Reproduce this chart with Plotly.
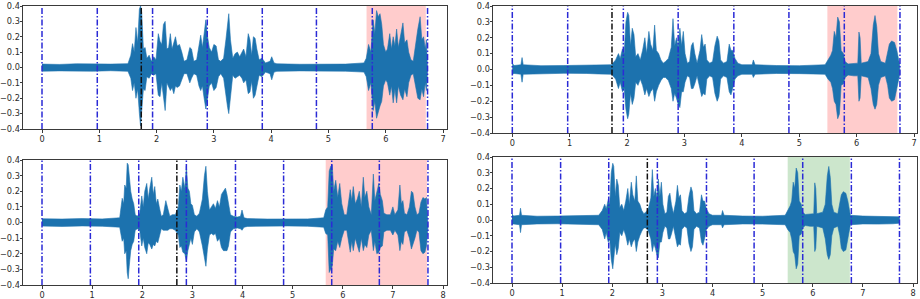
import plotly.graph_objects as go

W, H = 920, 299

# ---------------- data ----------------
# Top-left waveform envelope: time (s), upper, lower amplitude
TL_T = [0.00, 0.30, 0.60, 0.90, 1.20, 1.50, 1.55, 1.58, 1.61, 1.64, 1.67, 1.70, 1.72, 1.74, 1.77, 1.80,
        1.83, 1.87, 1.91, 1.95, 1.99, 2.03, 2.06, 2.09, 2.12, 2.15, 2.18, 2.21, 2.24, 2.27, 2.30, 2.33,
        2.36, 2.40, 2.44, 2.48, 2.53, 2.58, 2.61, 2.65, 2.70, 2.74, 2.77, 2.80, 2.83, 2.86, 2.89, 2.92,
        2.96, 3.00, 3.04, 3.08, 3.12, 3.17, 3.21, 3.24, 3.26, 3.29, 3.33, 3.37, 3.41, 3.45, 3.49, 3.52,
        3.56, 3.60, 3.63, 3.66, 3.69, 3.72, 3.75, 3.79, 3.84, 3.90, 3.98, 4.01, 4.05, 4.10, 4.50, 4.90,
        5.30, 5.62, 5.66, 5.70, 5.74, 5.78, 5.81, 5.84, 5.87, 5.90, 5.93, 5.96, 6.00, 6.03, 6.07, 6.10,
        6.13, 6.16, 6.19, 6.22, 6.26, 6.30, 6.33, 6.37, 6.40, 6.44, 6.48, 6.52, 6.56, 6.60, 6.63, 6.66,
        6.69, 6.71, 6.73]
TL_UP = [0.022, 0.020, 0.024, 0.021, 0.022, 0.025, 0.08, 0.155, 0.10, 0.26, 0.16, 0.38, 0.40, 0.36, 0.12, 0.13,
         0.06, 0.08, 0.04, 0.07, 0.05, 0.22, 0.17, 0.15, 0.28, 0.30, 0.12, 0.13, 0.22, 0.12, 0.16, 0.20,
         0.14, 0.15, 0.10, 0.04, 0.05, 0.13, 0.12, 0.04, 0.05, 0.16, 0.21, 0.13, 0.22, 0.31, 0.20, 0.13,
         0.10, 0.15, 0.14, 0.05, 0.04, 0.06, 0.18, 0.30, 0.35, 0.18, 0.06, 0.09, 0.10, 0.07, 0.10, 0.12,
         0.07, 0.22, 0.18, 0.08, 0.20, 0.19, 0.12, 0.05, 0.06, 0.03, 0.04, 0.07, 0.03, 0.024, 0.021, 0.023,
         0.022, 0.03, 0.06, 0.15, 0.10, 0.31, 0.22, 0.37, 0.33, 0.35, 0.28, 0.15, 0.10, 0.12, 0.22, 0.12,
         0.20, 0.14, 0.25, 0.13, 0.20, 0.29, 0.16, 0.18, 0.10, 0.05, 0.04, 0.15, 0.25, 0.33, 0.18, 0.20,
         0.12, 0.18, 0.02]
TL_LO = [-0.024, -0.022, -0.022, -0.024, -0.021, -0.025, -0.07, -0.15, -0.10, -0.20, -0.14, -0.30, -0.38, -0.33, -0.14, -0.15,
         -0.06, -0.07, -0.04, -0.05, -0.04, -0.18, -0.19, -0.10, -0.20, -0.28, -0.10, -0.12, -0.15, -0.13, -0.17, -0.12,
         -0.13, -0.12, -0.08, -0.04, -0.04, -0.10, -0.07, -0.04, -0.05, -0.12, -0.15, -0.12, -0.20, -0.27, -0.20, -0.12,
         -0.10, -0.15, -0.13, -0.06, -0.04, -0.07, -0.16, -0.26, -0.30, -0.20, -0.05, -0.07, -0.06, -0.05, -0.07, -0.10,
         -0.08, -0.17, -0.16, -0.09, -0.20, -0.18, -0.12, -0.05, -0.06, -0.03, -0.04, -0.08, -0.03, -0.025, -0.022, -0.022,
         -0.024, -0.03, -0.06, -0.15, -0.10, -0.28, -0.22, -0.33, -0.30, -0.25, -0.22, -0.12, -0.08, -0.10, -0.18, -0.12,
         -0.23, -0.14, -0.23, -0.12, -0.18, -0.21, -0.14, -0.19, -0.10, -0.05, -0.04, -0.12, -0.20, -0.21, -0.14, -0.19,
         -0.10, -0.15, -0.02]
TL_SEG = [0, 0.965, 1.93, 2.885, 3.845, 4.79, 5.765, 6.73]
TL_MARK = [1.733]
TL_SPAN = [5.665, 6.70]

# Top-right waveform envelope
TR_T = [0.00, 0.03, 0.15, 0.17, 0.19, 0.50, 0.90, 1.30, 1.50, 1.73, 1.80, 1.85, 1.88, 1.92, 1.95, 1.98,
        2.01, 2.03, 2.06, 2.09, 2.12, 2.15, 2.19, 2.23, 2.27, 2.31, 2.34, 2.38, 2.41, 2.45, 2.48, 2.51,
        2.55, 2.59, 2.63, 2.67, 2.72, 2.77, 2.80, 2.83, 2.86, 2.89, 2.92, 2.95, 2.98, 3.01, 3.05, 3.09,
        3.12, 3.15, 3.18, 3.22, 3.27, 3.30, 3.33, 3.36, 3.39, 3.44, 3.49, 3.53, 3.57, 3.60, 3.63, 3.68,
        3.74, 3.78, 3.81, 3.84, 3.88, 3.93, 4.00, 4.18, 4.20, 4.23, 4.60, 5.00, 5.45, 5.50, 5.55, 5.58,
        5.61, 5.64, 5.67, 5.70, 5.73, 5.77, 5.80, 5.85, 5.95, 6.02, 6.04, 6.06, 6.08, 6.20, 6.25, 6.29,
        6.32, 6.35, 6.38, 6.42, 6.50, 6.54, 6.57, 6.61, 6.66, 6.70, 6.75]
TR_UP = [0.04, 0.025, 0.03, 0.075, 0.03, 0.024, 0.025, 0.026, 0.03, 0.03, 0.06, 0.10, 0.07, 0.13, 0.10, 0.30,
         0.36, 0.34, 0.15, 0.26, 0.22, 0.08, 0.10, 0.06, 0.12, 0.20, 0.10, 0.24, 0.16, 0.12, 0.28, 0.12,
         0.10, 0.06, 0.04, 0.05, 0.07, 0.14, 0.32, 0.15, 0.20, 0.14, 0.26, 0.15, 0.24, 0.10, 0.04, 0.05,
         0.15, 0.17, 0.10, 0.04, 0.12, 0.22, 0.14, 0.16, 0.06, 0.04, 0.05, 0.15, 0.21, 0.18, 0.06, 0.04,
         0.05, 0.16, 0.12, 0.12, 0.07, 0.04, 0.03, 0.03, 0.06, 0.03, 0.025, 0.024, 0.03, 0.06, 0.09, 0.12,
         0.24, 0.20, 0.33, 0.30, 0.12, 0.10, 0.05, 0.035, 0.04, 0.04, 0.236, 0.20, 0.04, 0.05, 0.10, 0.28,
         0.34, 0.27, 0.10, 0.05, 0.04, 0.10, 0.16, 0.18, 0.17, 0.12, 0.03]
TR_LO = [-0.03, -0.025, -0.03, -0.08, -0.03, -0.025, -0.024, -0.025, -0.028, -0.03, -0.06, -0.12, -0.08, -0.14, -0.12, -0.25,
         -0.31, -0.28, -0.15, -0.22, -0.18, -0.08, -0.10, -0.06, -0.10, -0.16, -0.12, -0.17, -0.14, -0.12, -0.20, -0.14,
         -0.10, -0.07, -0.05, -0.05, -0.07, -0.12, -0.20, -0.15, -0.18, -0.22, -0.24, -0.14, -0.14, -0.08, -0.04, -0.05,
         -0.12, -0.12, -0.09, -0.04, -0.12, -0.17, -0.15, -0.16, -0.06, -0.04, -0.05, -0.15, -0.20, -0.17, -0.06, -0.04,
         -0.05, -0.14, -0.16, -0.12, -0.06, -0.04, -0.03, -0.03, -0.05, -0.03, -0.025, -0.026, -0.03, -0.06, -0.08, -0.12,
         -0.20, -0.22, -0.31, -0.28, -0.10, -0.09, -0.05, -0.035, -0.04, -0.04, -0.20, -0.18, -0.04, -0.05, -0.12, -0.22,
         -0.25, -0.22, -0.10, -0.05, -0.04, -0.10, -0.18, -0.20, -0.19, -0.12, -0.03]
TR_SEG = [0, 0.965, 1.935, 2.89, 3.86, 4.82, 5.785, 6.755]
TR_MARK = [1.737]
TR_SPAN = [5.49, 6.71]

# Bottom-left waveform envelope
BL_T = [0.00, 0.40, 0.80, 1.20, 1.55, 1.58, 1.60, 1.63, 1.65, 1.68, 1.70, 1.72, 1.74, 1.77, 1.80, 1.83,
        1.86, 1.90, 1.95, 1.99, 2.02, 2.05, 2.09, 2.12, 2.15, 2.19, 2.22, 2.25, 2.28, 2.31, 2.34, 2.38,
        2.42, 2.47, 2.51, 2.55, 2.60, 2.66, 2.72, 2.75, 2.78, 2.81, 2.85, 2.88, 2.91, 2.94, 2.97, 3.00,
        3.04, 3.09, 3.14, 3.20, 3.24, 3.27, 3.30, 3.34, 3.38, 3.42, 3.46, 3.50, 3.54, 3.58, 3.62, 3.66,
        3.69, 3.72, 3.76, 3.82, 3.90, 3.96, 3.99, 4.03, 4.10, 4.50, 4.90, 5.30, 5.62, 5.66, 5.70, 5.73,
        5.76, 5.79, 5.82, 5.86, 5.90, 5.94, 5.98, 6.03, 6.08, 6.12, 6.15, 6.18, 6.21, 6.25, 6.29, 6.33,
        6.37, 6.41, 6.44, 6.48, 6.52, 6.57, 6.61, 6.64, 6.68, 6.72, 6.75, 6.79, 6.82, 6.88, 6.95, 7.00,
        7.04, 7.10, 7.14, 7.17, 7.20, 7.23, 7.28, 7.33, 7.37, 7.40, 7.44, 7.48, 7.52, 7.56, 7.60, 7.64,
        7.67, 7.70]
BL_UP = [0.024, 0.022, 0.025, 0.023, 0.03, 0.10, 0.155, 0.12, 0.24, 0.22, 0.38, 0.37, 0.30, 0.20, 0.15, 0.12,
         0.05, 0.04, 0.06, 0.17, 0.10, 0.20, 0.25, 0.15, 0.22, 0.29, 0.18, 0.23, 0.12, 0.15, 0.10, 0.04,
         0.05, 0.14, 0.09, 0.04, 0.05, 0.05, 0.10, 0.24, 0.20, 0.29, 0.22, 0.36, 0.22, 0.20, 0.12, 0.11,
         0.05, 0.04, 0.06, 0.15, 0.30, 0.36, 0.20, 0.08, 0.10, 0.12, 0.09, 0.14, 0.10, 0.18, 0.20, 0.22,
         0.18, 0.12, 0.05, 0.04, 0.035, 0.04, 0.08, 0.03, 0.025, 0.022, 0.024, 0.023, 0.03, 0.08, 0.10, 0.33,
         0.36, 0.37, 0.20, 0.27, 0.16, 0.25, 0.12, 0.05, 0.05, 0.16, 0.21, 0.14, 0.23, 0.12, 0.15, 0.20,
         0.10, 0.29, 0.16, 0.20, 0.10, 0.05, 0.31, 0.14, 0.20, 0.25, 0.18, 0.14, 0.06, 0.05, 0.05, 0.10,
         0.05, 0.08, 0.24, 0.12, 0.14, 0.06, 0.05, 0.10, 0.20, 0.19, 0.10, 0.05, 0.06, 0.13, 0.16, 0.15,
         0.16, 0.03]
BL_LO = [-0.023, -0.025, -0.022, -0.024, -0.03, -0.08, -0.12, -0.10, -0.20, -0.18, -0.32, -0.36, -0.28, -0.18, -0.14, -0.12,
         -0.05, -0.04, -0.05, -0.15, -0.10, -0.16, -0.20, -0.13, -0.14, -0.17, -0.14, -0.15, -0.12, -0.13, -0.10, -0.04,
         -0.05, -0.05, -0.05, -0.04, -0.04, -0.05, -0.08, -0.16, -0.15, -0.19, -0.20, -0.25, -0.18, -0.14, -0.10, -0.14,
         -0.06, -0.04, -0.06, -0.15, -0.22, -0.28, -0.17, -0.08, -0.07, -0.08, -0.07, -0.12, -0.10, -0.16, -0.18, -0.18,
         -0.18, -0.15, -0.06, -0.04, -0.035, -0.04, -0.05, -0.03, -0.025, -0.023, -0.022, -0.024, -0.03, -0.07, -0.08, -0.32,
         -0.30, -0.28, -0.17, -0.18, -0.12, -0.16, -0.10, -0.05, -0.05, -0.12, -0.19, -0.12, -0.18, -0.10, -0.14, -0.19,
         -0.10, -0.18, -0.14, -0.16, -0.08, -0.05, -0.18, -0.12, -0.20, -0.19, -0.16, -0.15, -0.06, -0.05, -0.05, -0.08,
         -0.05, -0.08, -0.18, -0.12, -0.14, -0.06, -0.05, -0.10, -0.17, -0.15, -0.10, -0.05, -0.06, -0.18, -0.20, -0.19,
         -0.15, -0.03]
BL_SEG = [0, 0.965, 1.93, 2.88, 3.86, 4.82, 5.78, 6.73, 7.70]
BL_MARK = [2.69]
BL_SPAN = [5.66, 7.68]

# Bottom-right: same recording as top-right followed by about one second of background noise
BR_TAIL_T = [7.00, 7.30, 7.60, 7.73]
BR_TAIL_UP = [0.025, 0.024, 0.025, 0.02]
BR_TAIL_LO = [-0.025, -0.026, -0.024, -0.02]
BR_T = TR_T + BR_TAIL_T
BR_UP = TR_UP + BR_TAIL_UP
BR_LO = TR_LO + BR_TAIL_LO
BR_SEG = [0, 0.97, 1.93, 2.90, 3.88, 4.83, 5.80, 6.77, 7.73]
BR_MARK = [2.70]
BR_SPAN = [5.50, 6.74]

X_TICKS_TOP = [0, 1, 2, 3, 4, 5, 6, 7]
X_TICKS_BOTTOM = [0, 1, 2, 3, 4, 5, 6, 7, 8]
Y_TICKS = [0.4, 0.3, 0.2, 0.1, 0.0, -0.1, -0.2, -0.3, -0.4]

# ---------------- layout (pixel boxes of each panel) ----------------
panels = [
    # name, t, up, lo, seg, mark, span, span colour, xticks, box(left,right,top,bottom), x px of 0, px per second
    ("1", TL_T, TL_UP, TL_LO, TL_SEG, TL_MARK, TL_SPAN, "#ffcccc", X_TICKS_TOP, (23, 447, 6, 129), 42.0, 57.29),
    ("2", TR_T, TR_UP, TR_LO, TR_SEG, TR_MARK, TR_SPAN, "#ffcccc", X_TICKS_TOP, (493, 917, 6, 133), 512.3, 57.39),
    ("3", BL_T, BL_UP, BL_LO, BL_SEG, BL_MARK, BL_SPAN, "#ffcccc", X_TICKS_BOTTOM, (23, 447, 160, 285), 42.0, 50.125),
    ("4", BR_T, BR_UP, BR_LO, BR_SEG, BR_MARK, BR_SPAN, "#cce6cc", X_TICKS_BOTTOM, (493, 917, 157, 283), 512.0, 50.125),
]

WAVE = "#1c72ae"
SEG_COL = "#2b2bd6"
MARK_COL = "#111111"
FONT = dict(family="DejaVu Sans", size=8.2, color="#2a2a2a")

fig = go.Figure()
shapes = []
layout = dict(
    width=W, height=H, margin=dict(l=0, r=0, t=0, b=0, autoexpand=False),
    paper_bgcolor="white", plot_bgcolor="white", showlegend=False, font=FONT,
)

for name, t, up, lo, seg, mark, span, scol, xt, box, x0px, pps in panels:
    assert len(t) == len(up) == len(lo)
    sfx = "" if name == "1" else name
    xa, ya = "x" + sfx, "y" + sfx
    left, right, top, bottom = box
    xr = [(left - x0px) / pps, (right - x0px) / pps]
    layout["xaxis" + sfx] = dict(
        domain=[left / W, right / W], range=xr, anchor=ya, automargin=False,
        tickvals=xt, ticktext=[str(v) for v in xt],
        showgrid=False, zeroline=False, showline=True, linecolor="#3a3a3a", linewidth=1, mirror=True,
        ticks="outside", ticklen=2.5, tickwidth=1, tickcolor="#3a3a3a", tickfont=FONT,
    )
    layout["yaxis" + sfx] = dict(
        domain=[1 - bottom / H, 1 - top / H], range=[-0.4, 0.4], anchor=xa, automargin=False,
        tickvals=Y_TICKS, ticktext=[("\u2212%.1f" % -v) if v < 0 else "%.1f" % v for v in Y_TICKS],
        showgrid=False, zeroline=False, showline=True, linecolor="#3a3a3a", linewidth=1, mirror=True,
        ticks="outside", ticklen=2.5, tickwidth=1, tickcolor="#3a3a3a", tickfont=FONT,
        ticklabelstandoff=-2,
    )
    # highlighted region
    shapes.append(dict(type="rect", xref=xa, yref=ya + " domain", x0=span[0], x1=span[1], y0=0, y1=1,
                       fillcolor=scol, line=dict(width=0), layer="below"))
    # waveform envelope
    fig.add_trace(go.Scatter(
        x=list(t) + list(t)[::-1], y=list(up) + list(lo)[::-1],
        xaxis=xa, yaxis=ya, mode="lines", fill="toself", fillcolor=WAVE,
        line=dict(color=WAVE, width=0.6), hoverinfo="skip",
    ))
    # segment boundaries
    for s in seg:
        shapes.append(dict(type="line", xref=xa, yref=ya + " domain", x0=s, x1=s, y0=0, y1=1,
                           line=dict(color=SEG_COL, width=1.5, dash="6px,2px,1.5px,2px"), layer="above"))
    for m in mark:
        shapes.append(dict(type="line", xref=xa, yref=ya + " domain", x0=m, x1=m, y0=0, y1=1,
                           line=dict(color=MARK_COL, width=1.5, dash="6px,2px,1.5px,2px"), layer="above"))

layout["shapes"] = shapes
fig.update_layout(**layout)
fig.write_html(
    "out.html",
    config={"displayModeBar": False},
    post_script="document.body.style.margin='0';document.body.style.overflow='hidden';",
)
